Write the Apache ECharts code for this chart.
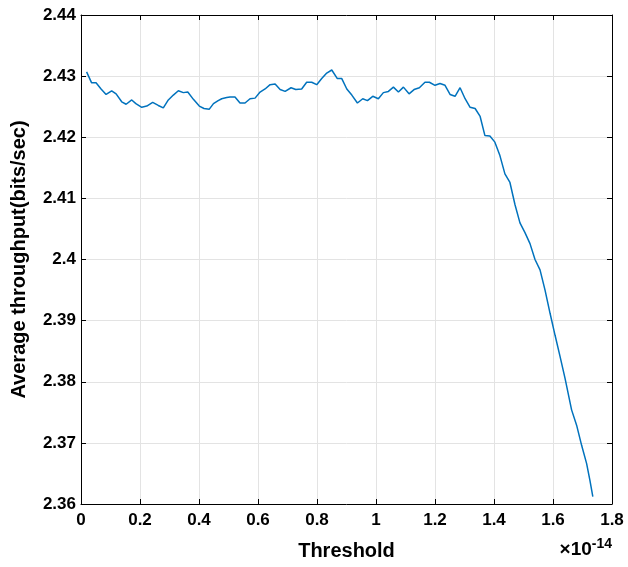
<!DOCTYPE html>
<html>
<head>
<meta charset="utf-8">
<style>
  html, body { margin: 0; padding: 0; background: #fff; }
  #chart { width: 628px; height: 567px; }
</style>
<script src="https://cdn.jsdelivr.net/npm/echarts@6/dist/echarts.min.js"></script>
</head>
<body>
<div id="chart"></div>
<script>
// Threshold values (in units of 1e-14)
const thresholds = [
  0.019, 0.036, 0.051, 0.068, 0.085, 0.104, 0.119, 0.138, 0.153, 0.172,
  0.186, 0.206, 0.223, 0.243, 0.262, 0.279, 0.296, 0.313, 0.330, 0.347,
  0.362, 0.381, 0.401, 0.417, 0.435, 0.449, 0.465, 0.477, 0.494, 0.505,
  0.522, 0.539, 0.556, 0.573, 0.590, 0.607, 0.624, 0.641, 0.658, 0.675,
  0.692, 0.712, 0.728, 0.748, 0.765, 0.782, 0.799, 0.816, 0.833, 0.850,
  0.869, 0.884, 0.901, 0.918, 0.937, 0.955, 0.971, 0.989, 1.008, 1.025,
  1.042, 1.059, 1.076, 1.093, 1.112, 1.129, 1.147, 1.166, 1.181, 1.200,
  1.217, 1.234, 1.251, 1.268, 1.285, 1.302, 1.319, 1.336, 1.353, 1.369,
  1.386, 1.403, 1.420, 1.437, 1.454, 1.471, 1.488, 1.505, 1.522, 1.539,
  1.556, 1.573, 1.590, 1.607, 1.624, 1.641, 1.663, 1.680, 1.697, 1.714,
  1.725, 1.735
];

// Average throughput (bits/sec) at each threshold
const throughput = [
  2.4307, 2.4289, 2.4289, 2.4279, 2.4270, 2.4276, 2.4271, 2.4258, 2.4254, 2.4261,
  2.4255, 2.4249, 2.4251, 2.4257, 2.4252, 2.4248, 2.4261, 2.4269, 2.4276, 2.4273,
  2.4274, 2.4262, 2.4251, 2.4247, 2.4246, 2.4255, 2.4260, 2.4263, 2.4265, 2.4266,
  2.4266, 2.4256, 2.4256, 2.4263, 2.4264, 2.4274, 2.4279, 2.4286, 2.4287, 2.4278,
  2.4275, 2.4281, 2.4278, 2.4279, 2.4290, 2.4290, 2.4286, 2.4296, 2.4305, 2.4310,
  2.4296, 2.4296, 2.4279, 2.4269, 2.4256, 2.4263, 2.4260, 2.4267, 2.4263, 2.4273,
  2.4275, 2.4282, 2.4274, 2.4282, 2.4271, 2.4278, 2.4281, 2.4290, 2.4290, 2.4285,
  2.4288, 2.4285, 2.4270, 2.4267, 2.4281, 2.4263, 2.4249, 2.4247, 2.4234, 2.4203,
  2.4202, 2.4192, 2.4170, 2.4140, 2.4126, 2.4090, 2.4060, 2.4044, 2.4026, 2.4000,
  2.3983, 2.3950, 2.3912, 2.3876, 2.3841, 2.3805, 2.3754, 2.3729, 2.3696, 2.3666,
  2.3639, 2.3612
];

// Axis ranges and tick steps
const xRange = [0, 1.8];
const xStep = 0.2;
const yRange = [2.36, 2.44];
const yStep = 0.01;

const FONT = '"Liberation Sans", Arial, Helvetica, sans-serif';
const gridColor = '#e3e3e3';

const fmt = v => String(parseFloat(v.toFixed(2)));

const chart = echarts.init(document.getElementById('chart'), null, { renderer: 'canvas' });

const baseX = {
  type: 'value', min: xRange[0], max: xRange[1], interval: xStep,
  axisLine: { show: true, onZero: false, lineStyle: { color: '#000', width: 1 } },
  axisTick: { show: true, inside: true, length: 5, lineStyle: { color: '#000' } }
};
const baseY = {
  type: 'value', min: yRange[0], max: yRange[1], interval: yStep,
  axisLine: { show: true, onZero: false, lineStyle: { color: '#000', width: 1 } },
  axisTick: { show: true, inside: true, length: 5, lineStyle: { color: '#000' } }
};

chart.setOption({
  animation: false,
  backgroundColor: '#fff',
  grid: { left: 81, right: 16, top: 15, bottom: 63, containLabel: false },
  xAxis: [
    Object.assign({}, baseX, {
      position: 'bottom',
      name: 'Threshold',
      nameLocation: 'middle',
      nameGap: 37,
      nameTextStyle: { fontFamily: FONT, fontWeight: 'bold', fontSize: 20, color: '#000' },
      axisLabel: { show: true, margin: 8, formatter: fmt, fontFamily: FONT, fontWeight: 'bold', fontSize: 17, color: '#000' },
      splitLine: { show: true, lineStyle: { color: gridColor, width: 1 } }
    }),
    Object.assign({}, baseX, {
      position: 'top',
      axisLabel: { show: false },
      splitLine: { show: false }
    })
  ],
  yAxis: [
    Object.assign({}, baseY, {
      position: 'left',
      name: 'Average throughput(bits/sec)',
      nameLocation: 'middle',
      nameGap: 52,
      nameTextStyle: { fontFamily: FONT, fontWeight: 'bold', fontSize: 20, color: '#000' },
      axisLabel: { show: true, margin: 5, formatter: fmt, fontFamily: FONT, fontWeight: 'bold', fontSize: 17, color: '#000' },
      splitLine: { show: true, lineStyle: { color: gridColor, width: 1 } }
    }),
    Object.assign({}, baseY, {
      position: 'right',
      axisLabel: { show: false },
      splitLine: { show: false }
    })
  ],
  graphic: [
    {
      type: 'text',
      right: 16,
      top: 537,
      style: {
        text: '×10{sup|-14}',
        fontFamily: FONT,
        fontSize: 19,
        fontWeight: 'bold',
        fill: '#000',
        rich: {
          sup: { fontFamily: FONT, fontSize: 14, fontWeight: 'bold', fill: '#000', verticalAlign: 'top', padding: [0, 0, 12, 0] }
        }
      }
    }
  ],
  series: [
    {
      type: 'line',
      xAxisIndex: 0,
      yAxisIndex: 0,
      data: thresholds.map((t, i) => [t, throughput[i]]),
      showSymbol: false,
      symbol: 'none',
      lineStyle: { color: '#0072BD', width: 1.5 },
      z: 5
    }
  ]
});
</script>
</body>
</html>
